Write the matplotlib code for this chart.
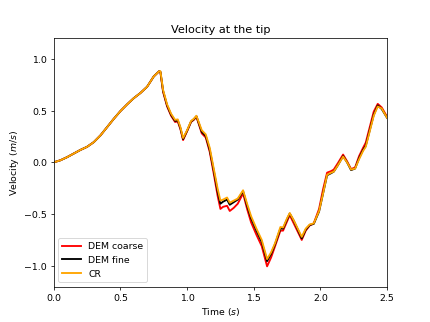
import matplotlib
matplotlib.use("Agg")
import matplotlib.pyplot as plt

time = [0.00, 0.05, 0.10, 0.15, 0.20, 0.25, 0.30, 0.35, 0.40, 0.45, 0.50, 0.55, 0.60, 0.65, 0.70, 0.75,
        0.79, 0.80, 0.82, 0.85, 0.88, 0.91, 0.93, 0.95, 0.97, 1.00, 1.03, 1.05, 1.07, 1.09, 1.11, 1.14,
        1.17, 1.20, 1.23, 1.25, 1.27, 1.30, 1.32, 1.35, 1.38, 1.42, 1.45, 1.48, 1.52, 1.56, 1.60, 1.63,
        1.66, 1.70, 1.72, 1.75, 1.77, 1.80, 1.83, 1.86, 1.89, 1.92, 1.95, 1.99, 2.02, 2.05, 2.08, 2.10,
        2.13, 2.17, 2.20, 2.23, 2.26, 2.29, 2.32, 2.34, 2.37, 2.40, 2.43, 2.46, 2.50]

cr = [0.000, 0.020, 0.050, 0.085, 0.120, 0.150, 0.195, 0.260, 0.340, 0.420, 0.495, 0.560, 0.620, 0.670, 0.730, 0.830,
      0.880, 0.880, 0.700, 0.560, 0.470, 0.410, 0.415, 0.340, 0.235, 0.310, 0.400, 0.420, 0.450, 0.380, 0.310, 0.270,
      0.140, -0.060, -0.260, -0.370, -0.360, -0.340, -0.390, -0.370, -0.350, -0.270, -0.400, -0.520, -0.640, -0.750, -0.935, -0.870,
      -0.780, -0.625, -0.630, -0.540, -0.490, -0.560, -0.640, -0.720, -0.640, -0.600, -0.590, -0.470, -0.300, -0.120, -0.100, -0.090,
      -0.030, 0.055, 0.000, -0.070, -0.060, 0.030, 0.110, 0.150, 0.300, 0.450, 0.540, 0.520, 0.430]

dem_fine = [0.000, 0.020, 0.050, 0.085, 0.120, 0.150, 0.195, 0.260, 0.340, 0.420, 0.495, 0.560, 0.620, 0.670, 0.730, 0.830,
            0.880, 0.875, 0.690, 0.550, 0.460, 0.400, 0.405, 0.330, 0.225, 0.305, 0.395, 0.415, 0.445, 0.370, 0.295, 0.255,
            0.120, -0.080, -0.290, -0.400, -0.380, -0.360, -0.410, -0.385, -0.360, -0.280, -0.420, -0.540, -0.660, -0.770, -0.955, -0.885,
            -0.790, -0.640, -0.640, -0.550, -0.495, -0.565, -0.650, -0.735, -0.650, -0.605, -0.595, -0.475, -0.300, -0.125, -0.105, -0.090,
            -0.030, 0.060, 0.000, -0.075, -0.060, 0.040, 0.120, 0.160, 0.310, 0.460, 0.550, 0.515, 0.430]

dem_coarse = [0.000, 0.020, 0.050, 0.085, 0.120, 0.150, 0.195, 0.260, 0.340, 0.420, 0.495, 0.560, 0.620, 0.670, 0.730, 0.830,
              0.880, 0.870, 0.680, 0.540, 0.450, 0.390, 0.395, 0.320, 0.215, 0.300, 0.390, 0.410, 0.440, 0.360, 0.280, 0.240,
              0.100, -0.110, -0.330, -0.450, -0.430, -0.420, -0.470, -0.440, -0.400, -0.300, -0.450, -0.580, -0.700, -0.810, -1.005, -0.920,
              -0.810, -0.660, -0.660, -0.570, -0.510, -0.590, -0.670, -0.750, -0.660, -0.610, -0.590, -0.450, -0.260, -0.100, -0.085, -0.070,
              -0.010, 0.075, 0.010, -0.065, -0.050, 0.060, 0.140, 0.190, 0.340, 0.490, 0.565, 0.530, 0.440]

fig, ax = plt.subplots(figsize=(6.4, 4.8), dpi=67.2)
ax.plot(time, dem_coarse, color="red", lw=2.0, label="DEM coarse")
ax.plot(time, dem_fine, color="black", lw=2.0, label="DEM fine")
ax.plot(time, cr, color="orange", lw=2.0, label="CR")
ax.set_xlim(0, 2.5)
ax.set_ylim(-1.2, 1.2)
ax.set_xticks([0.0, 0.5, 1.0, 1.5, 2.0, 2.5])
ax.set_yticks([-1.0, -0.5, 0.0, 0.5, 1.0])
ax.set_title("Velocity at the tip")
ax.set_xlabel("Time ($s$)")
ax.set_ylabel("Velocity ($m/s$)")
ax.legend(loc="lower left")
fig.savefig("out.png", dpi=67.2)
